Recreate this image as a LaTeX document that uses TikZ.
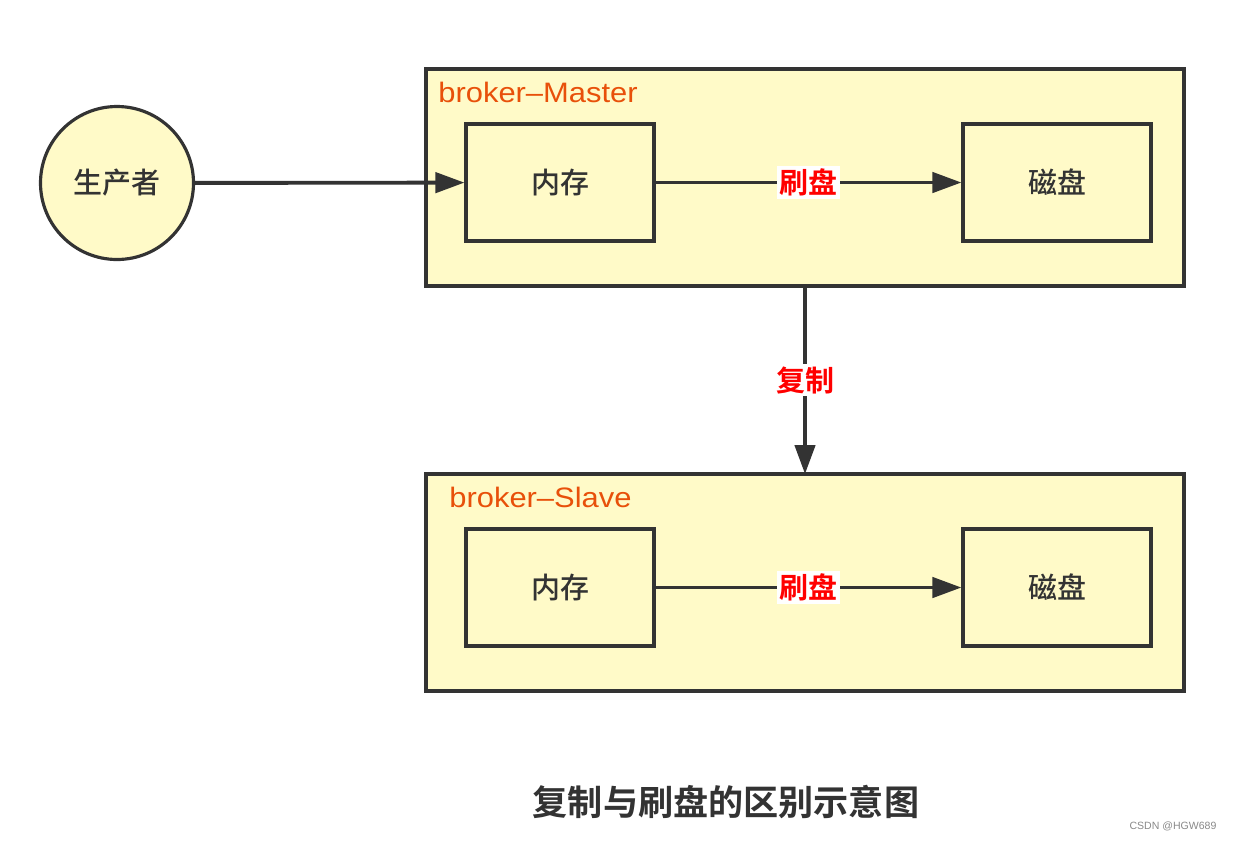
\documentclass[tikz,border=0pt]{standalone}
\usepackage{fontspec}
\setmainfont{Liberation Sans}
\newfontfamily\cjk{Noto Sans CJK SC Medium}
\newfontfamily\cjkb{Noto Sans CJK SC Bold}
\usetikzlibrary{arrows.meta}
\definecolor{boxfill}{HTML}{FFFAC8}
\definecolor{edge}{HTML}{333333}
\definecolor{lbl}{HTML}{E8500A}
\definecolor{wm}{HTML}{888888}
\begin{document}
\begin{tikzpicture}[x=0.02cm,y=-0.02cm,
  outer/.style={draw=edge,fill=boxfill,line width=1.8pt},
  inner/.style={draw=edge,fill=boxfill,line width=1.8pt,minimum width=188*0.02cm,minimum height=117*0.02cm,inner sep=0pt,font=\cjk\fontsize{16.5}{18}\selectfont,text=edge},
  conn/.style={draw=edge,line width=2.2pt,-{Triangle[length=16.5pt,width=11.5pt]}},
  redlbl/.style={fill=white,text=red,inner sep=1.5pt,font=\cjkb\fontsize{16.5}{18}\selectfont},
  title/.style={font=\fontsize{16}{18}\selectfont,text=lbl,anchor=west,inner sep=0pt}]
\useasboundingbox (0,0) rectangle (1234,840);
% producer
\node[circle,draw=edge,fill=boxfill,line width=1.8pt,minimum size=153*0.02cm,inner sep=0pt,font=\cjk\fontsize{16.5}{18}\selectfont,text=edge] (prod) at (117,183) {生产者};
% master
\draw[outer] (426,69) rectangle (1184,286);
\coordinate (mbot) at (805,286);
\node[title] (mt) at (438,92) {\scalebox{1.1}[1]{broker\textendash Master}};
\node[inner] (mmem) at (560,182.5) {内存};
\node[inner] (mdisk) at (1057,182.5) {磁盘};
% slave
\draw[outer] (426,474) rectangle (1184,691);
\coordinate (stop) at (805,474);
\node[title] (st) at (449,497) {\scalebox{1.1}[1]{broker\textendash Slave}};
\node[inner] (smem) at (560,587.5) {内存};
\node[inner] (sdisk) at (1057,587.5) {磁盘};
% connectors
\draw[conn] (prod) -- (mmem);
\draw[conn] (mmem) -- node[redlbl] {刷盘} (mdisk);
\draw[conn] (smem) -- node[redlbl] {刷盘} (sdisk);
\draw[conn] (mbot) -- node[redlbl] {复制} (stop);
% title
\node[font=\cjkb\fontsize{20}{22}\selectfont,text=edge] (cap) at (726,802) {复制与刷盘的区别示意图};
\node[font=\fontsize{6}{7}\selectfont,text=wm] (wmk) at (1173,826) {CSDN @HGW689};
\end{tikzpicture}
\end{document}
